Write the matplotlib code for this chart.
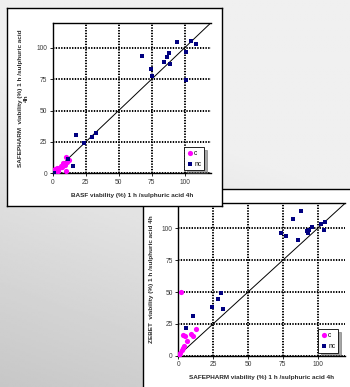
import numpy as np
import matplotlib
matplotlib.use("Agg")
import matplotlib.pyplot as plt

plt.rcParams['font.family'] = ['Liberation Sans', 'DejaVu Sans']

# ---- data: top panel (BASF x, SAFEPHARM y) ----
top_c_x = [0.5, 1.0, 2.0, 3.0, 4.0, 5.0, 6.0, 7.0, 8.0, 9.0, 9.8, 10.1, 11.0, 12.4, 1.5, 3.5]
top_c_y = [3.0, 1.5, 2.0, 3.0, 2.0, 4.5, 6.0, 5.0, 8.0, 7.0, 12.7, 2.1, 9.0, 10.6, 3.5, 4.0]
top_nc_x = [67.4, 74.5, 75.3, 84.6, 86.4, 87.9, 89.1, 94.4, 100.8, 100.8, 104.8, 108.3,
            17.4, 24.0, 30.0, 32.6, 15.2, 11.9, 1.0]
top_nc_y = [93.6, 82.8, 77.7, 88.9, 92.6, 95.5, 86.7, 105.0, 96.3, 74.0, 105.6, 103.4,
            30.8, 24.4, 28.9, 32.4, 6.1, 11.1, 0.5]

# ---- data: bottom panel (SAFEPHARM x, ZEBET y) ----
bot_c_x = [1.9, 12.9, 3.1, 4.8, 8.9, 10.8, 6.0, 4.3, 3.3, 2.4, 1.4, 0.5]
bot_c_y = [49.7, 20.9, 16.5, 15.7, 17.0, 15.4, 11.5, 7.9, 5.8, 4.2, 2.4, 0.8]
bot_nc_x = [88.1, 82.6, 73.5, 77.5, 86.1, 92.6, 94.0, 92.9, 95.8, 102.2, 105.1, 104.6,
            30.4, 28.3, 24.0, 32.1, 10.8, 5.5]
bot_nc_y = [113.9, 107.6, 96.1, 94.3, 90.6, 98.2, 98.7, 96.1, 100.9, 103.2, 105.0, 98.7,
            49.2, 44.5, 38.0, 36.7, 31.4, 21.5]

ticks = [0, 25, 50, 75, 100]
tick_labels = ["0", "25", "50", "75", "100"]
series_names = ["c", "nc"]

W, H = 350, 387
fig = plt.figure(figsize=(W / 100, H / 100), dpi=100)

# background gradient
bg = fig.add_axes([0, 0, 1, 1], zorder=0)
yy, xx = np.mgrid[0:1:200j, 0:1:200j]
grad = 0.94 - 0.16 * np.clip((yy * 1.2 + (1 - xx) * 0.4) - 0.6, 0, 1)
bg.imshow(grad, cmap='gray', vmin=0, vmax=1, extent=[0, 1, 0, 1], aspect='auto', origin='upper')
bg.axis('off')


def px_rect(x0, y0, x1, y1):
    return [x0 / W, 1 - y1 / H, (x1 - x0) / W, (y1 - y0) / H]


def panel(rect, z):
    a = fig.add_axes(rect, zorder=z)
    a.set_facecolor('white')
    a.set_xticks([]); a.set_yticks([])
    for s in a.spines.values():
        s.set_color('black'); s.set_linewidth(1.0)
    return a


def chart(rect, z, cx, cy, ncx, ncy, xlabel, ylabel, ylabelpad):
    ax = fig.add_axes(rect, zorder=z)
    ax.set_facecolor('white')
    ax.set_xlim(0, 120); ax.set_ylim(0, 120)
    ax.set_xticks(ticks); ax.set_xticklabels(tick_labels)
    ax.set_yticks(ticks); ax.set_yticklabels(tick_labels)
    ax.tick_params(direction='out', length=2, width=0.6, labelsize=4.8,
                   labelcolor='#3a3a3a', pad=2)
    ax.grid(True, color='black', linestyle=(0, (0.7, 0.7)), linewidth=1.4)
    ax.set_axisbelow(True)
    for k in ['left', 'bottom', 'top']:
        ax.spines[k].set_color('black'); ax.spines[k].set_linewidth(1.0)
    ax.spines['right'].set_visible(False)
    ax.axline((0, 0), slope=1, color='black', linewidth=0.7, zorder=2)
    ax.scatter(cx, cy, s=14, marker='o', color='#ff00ff', label=series_names[0],
               zorder=3, linewidths=0)
    ax.scatter(ncx, ncy, s=8, marker='s', color='#000080', label=series_names[1],
               zorder=4, linewidths=0)
    ax.set_xlabel(xlabel, fontsize=4.6, fontweight='bold', color='#2a2a2a', labelpad=5)
    ax.set_ylabel(ylabel, fontsize=4.6, fontweight='bold', color='#2a2a2a',
                  labelpad=ylabelpad, linespacing=1.3)
    leg = ax.legend(loc='lower right', bbox_to_anchor=(0.955, 0.02), fontsize=4.8,
                    frameon=True, fancybox=False, shadow=True, borderpad=0.4,
                    handletextpad=0.1, handlelength=1.0, labelspacing=0.6,
                    borderaxespad=0)
    leg.get_frame().set_edgecolor('black')
    leg.get_frame().set_linewidth(0.6)
    return ax


# bottom panel (drawn first, behind)
panel(px_rect(143, 189, 352, 389), 1)
chart(px_rect(178.3, 203, 345.4, 355.7), 2, bot_c_x, bot_c_y, bot_nc_x, bot_nc_y,
      "SAFEPHARM viability (%) 1 h /sulphuric acid 4h",
      "ZEBET  viability (%) 1 h /sulphuric acid 4h", 6)

# top panel
panel(px_rect(7, 8, 222, 206), 3)
chart(px_rect(52.7, 22.7, 211, 173.3), 4, top_c_x, top_c_y, top_nc_x, top_nc_y,
      "BASF viability (%) 1 h /sulphuric acid 4h",
      "SAFEPHARM  viability (%) 1 h /sulphuric acid\n4h", 5)

fig.savefig("out.png", dpi=100)
